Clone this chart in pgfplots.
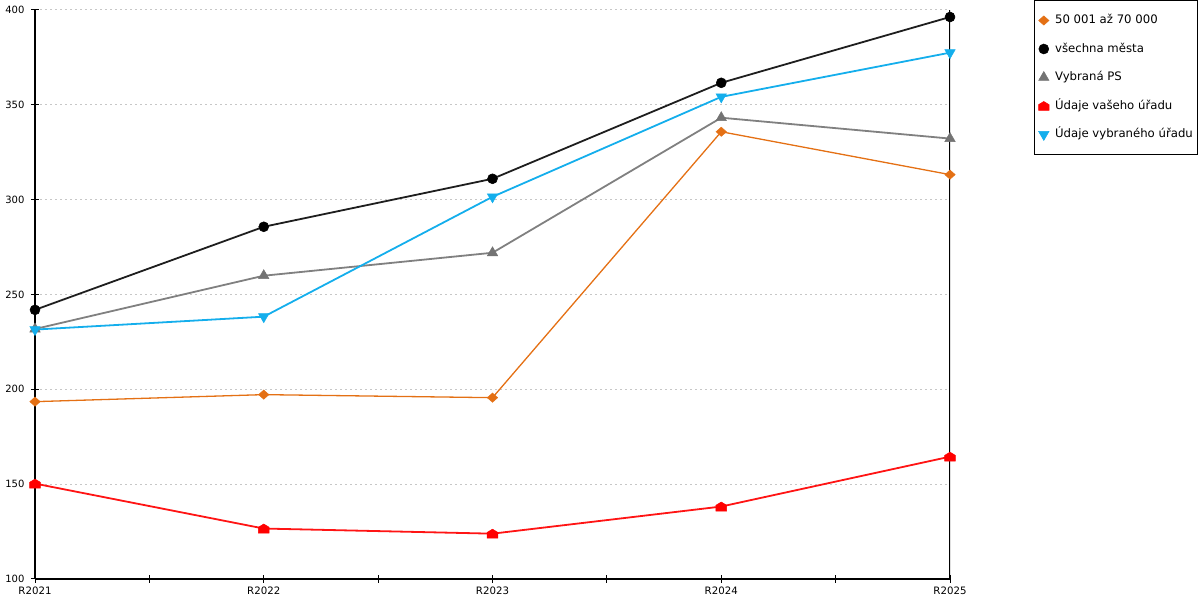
\documentclass[border=0pt]{standalone}
\usepackage{fontspec}
\setmainfont{DejaVu Sans}
\usepackage{pgfplots}
\pgfplotsset{compat=1.18}
\definecolor{cOr}{RGB}{228,112,20}
\definecolor{cBk}{RGB}{30,30,30}
\definecolor{cGr}{RGB}{128,128,128}
\definecolor{cRd}{RGB}{255,20,20}
\definecolor{cCy}{RGB}{20,174,236}
\pgfdeclareplotmark{house*}{%
  \pgfpathmoveto{\pgfpoint{-\pgfplotmarksize}{-0.85\pgfplotmarksize}}%
  \pgfpathlineto{\pgfpoint{\pgfplotmarksize}{-0.85\pgfplotmarksize}}%
  \pgfpathlineto{\pgfpoint{\pgfplotmarksize}{0.25\pgfplotmarksize}}%
  \pgfpathlineto{\pgfpoint{0pt}{0.85\pgfplotmarksize}}%
  \pgfpathlineto{\pgfpoint{-\pgfplotmarksize}{0.25\pgfplotmarksize}}%
  \pgfpathclose
  \pgfusepathqfillstroke
}
\begin{document}
\fontsize{10bp}{12bp}\selectfont
\begin{tikzpicture}[x=1bp,y=1bp]
\useasboundingbox (0,0) rectangle (1200,600);
\begin{axis}[
  at={(35bp,21bp)}, anchor=south west,
  scale only axis, width=915bp, height=569bp,
  xmin=0, xmax=4, ymin=100, ymax=400,
  axis lines=left, axis line style={-, black, line width=1.1bp},
  xtick={0,1,2,3,4}, xticklabels={R2021,R2022,R2023,R2024,R2025},
  minor xtick={0.5,1.5,2.5,3.5},
  ytick={100,150,...,400},
  tick align=center, major tick length=8bp, minor tick length=8bp,
  every tick/.style={black, line width=1bp},
  /pgf/number format/assume math mode=true,
  ymajorgrids,
  major y grid style={draw=black!22, line width=1bp, dash pattern=on 2bp off 3bp},
  xticklabel style={yshift=0bp, font=\fontsize{10.2bp}{12bp}\selectfont},
  yticklabel style={xshift=-3bp, font=\fontsize{10bp}{12bp}\selectfont},
  legend style={
    at={(1.0918,1.01757)}, anchor=north west,
    draw=black, line width=1bp,
    inner xsep=4bp, inner ysep=13.5bp,
    row sep=15.5bp, column sep=5bp,
    nodes={inner sep=1bp, text height=9bp, text depth=2bp},
    font=\fontsize{11.7bp}{13bp}\selectfont
  },
  legend cell align=left,
  legend image code/.code={\draw[#1] plot[only marks] coordinates {(0bp,0bp)};},
]
\addplot[color=cOr, line width=1.3bp, mark=diamond*, mark size=4.6bp, mark options={xscale=1.5, fill=cOr, draw=cOr, line width=0.5bp}]
  coordinates {(0,193.5) (1,197.2) (2,195.6) (3,335.8) (4,313.2)};
\addlegendentry{50 001 až 70 000}
\addplot[color=cBk, line width=1.8bp, mark=*, mark size=5bp, mark options={fill=black, draw=black, line width=0.5bp}]
  coordinates {(0,241.9) (1,285.7) (2,311.0) (3,361.6) (4,396.3)};
\addlegendentry{všechna města}
\addplot[color=cGr, line width=1.8bp, mark=triangle*, mark size=6bp, mark options={fill=black!55, draw=black!55, line width=0.5bp}]
  coordinates {(0,231.8) (1,259.9) (2,272.0) (3,343.2) (4,332.2)};
\addlegendentry{Vybraná PS}
\addplot[color=cRd, line width=1.8bp, mark=house*, mark size=5.3bp, mark options={fill=red, draw=red, line width=0.5bp}]
  coordinates {(0,150.3) (1,126.6) (2,123.9) (3,138.2) (4,164.5)};
\addlegendentry{Údaje vašeho úřadu}
\addplot[color=cCy, line width=1.8bp, mark=triangle*, mark size=6bp, mark options={rotate=180, fill=cCy, draw=cCy, line width=0.5bp}]
  coordinates {(0,231.5) (1,238.3) (2,301.5) (3,354.2) (4,377.5)};
\addlegendentry{Údaje vybraného úřadu}
\draw[black, line width=1.1bp] (rel axis cs:1,0) -- (rel axis cs:1,1);
\end{axis}
\end{tikzpicture}
\end{document}
